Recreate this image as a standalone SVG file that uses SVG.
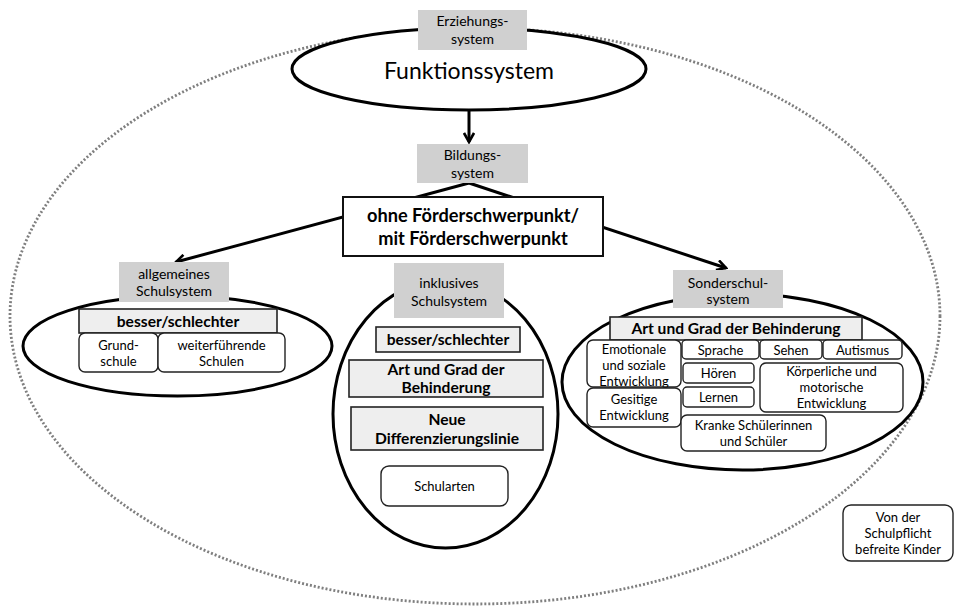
<svg xmlns="http://www.w3.org/2000/svg" width="954" height="608" viewBox="0 0 954 608">
<style>
text{font-family:Lato,"Open Sans","Liberation Sans",sans-serif;fill:#000;text-anchor:middle}
.hd{fill:#d0d0d0;stroke:none}
.hdt{font-size:14px}
.bx{fill:#eeeeee;stroke:#222;stroke-width:1.6}
.bxt{font-size:15.6px;font-weight:bold}
.rb{fill:#fff;stroke:#222;stroke-width:1.4}
.rbt{font-size:13px}
.el{fill:#fff;stroke:#000;stroke-width:3}
.cn{stroke:#000;stroke-width:3;fill:none}
</style>
<defs>
<marker id="ah" viewBox="0 0 12 12" refX="10" refY="6" markerWidth="12" markerHeight="12" markerUnits="userSpaceOnUse" orient="auto">
<path d="M1,1 L10,6 L1,11" fill="none" stroke="#000" stroke-width="2.6"/>
</marker>
</defs>
<ellipse id="outer" cx="475" cy="316" rx="465" ry="288" fill="none" stroke="#7f7f7f" stroke-width="2.8" stroke-dasharray="2 2"/>
<g id="connectors">
<line class="cn" x1="469" y1="110" x2="469" y2="142" marker-end="url(#ah)"/>
<line class="cn" x1="469" y1="183" x2="176" y2="262" marker-end="url(#ah)"/>
<line class="cn" x1="469" y1="183" x2="726" y2="268" marker-end="url(#ah)"/>
</g>
<g id="funktionssystem">
<ellipse class="el" cx="469" cy="69" rx="177" ry="41"/>
<text x="469" y="79" font-size="23">Funktionssystem</text>
</g>
<g id="erziehungssystem">
<rect class="hd" x="418" y="10" width="109" height="40"/>
<text class="hdt" x="472.5" y="26">Erziehungs-</text>
<text class="hdt" x="472.5" y="44">system</text>
</g>
<g id="bildungssystem">
<rect class="hd" x="417" y="144" width="111" height="39"/>
<text class="hdt" x="472.5" y="160">Bildungs-</text>
<text class="hdt" x="472.5" y="178">system</text>
</g>
<g id="foerderschwerpunkt">
<rect x="343" y="197" width="260" height="59" fill="#fff" stroke="#111" stroke-width="2"/>
<text x="473" y="222" font-size="18.2" font-weight="bold">ohne Förderschwerpunkt/</text>
<text x="473" y="245" font-size="18.2" font-weight="bold">mit Förderschwerpunkt</text>
</g>
<g id="allgemeines">
<ellipse class="el" cx="177.5" cy="346" rx="154.5" ry="50"/>
<rect class="hd" x="119" y="262" width="110" height="40"/>
<text class="hdt" x="174" y="279">allgemeines</text>
<text class="hdt" x="174" y="296">Schulsystem</text>
<rect class="bx" x="79" y="309" width="198" height="24"/>
<text class="bxt" x="178" y="327">besser/schlechter</text>
<rect class="rb" x="79" y="333" width="79" height="39" rx="6"/>
<text class="rbt" x="118.5" y="350">Grund-</text>
<text class="rbt" x="118.5" y="366">schule</text>
<rect class="rb" x="158" y="333" width="127" height="39" rx="6"/>
<text class="rbt" x="221.5" y="350">weiterführende</text>
<text class="rbt" x="221.5" y="366">Schulen</text>
</g>
<g id="inklusives">
<ellipse class="el" cx="445.5" cy="414" rx="112.5" ry="134"/>
<rect class="hd" x="394" y="263" width="110" height="55"/>
<text class="hdt" x="449" y="288">inklusives</text>
<text class="hdt" x="449" y="306">Schulsystem</text>
<rect class="bx" x="376" y="327" width="144" height="25"/>
<text class="bxt" x="448" y="345">besser/schlechter</text>
<rect class="bx" x="349" y="360" width="194" height="37"/>
<text class="bxt" x="446" y="375">Art und Grad der</text>
<text class="bxt" x="446" y="393">Behinderung</text>
<rect class="bx" x="351" y="407" width="192" height="43"/>
<text class="bxt" x="447" y="425">Neue</text>
<text class="bxt" x="447" y="444">Differenzierungslinie</text>
<rect class="rb" x="381" y="466" width="127" height="40" rx="8"/>
<text class="rbt" x="444.5" y="491">Schularten</text>
</g>
<g id="sonderschul">
<ellipse class="el" cx="742.5" cy="382" rx="180.5" ry="88"/>
<rect class="hd" x="673" y="270" width="110" height="38"/>
<text class="hdt" x="728" y="288">Sonderschul-</text>
<text class="hdt" x="728" y="304">system</text>
<rect class="bx" x="610" y="317" width="252" height="23"/>
<text class="bxt" x="736" y="334">Art und Grad der Behinderung</text>
<rect class="rb" x="587" y="340" width="94" height="47" rx="6"/>
<text class="rbt" x="634" y="354">Emotionale</text>
<text class="rbt" x="634" y="370">und soziale</text>
<text class="rbt" x="634" y="386">Entwicklung</text>
<rect class="rb" x="682" y="340" width="77" height="19" rx="4"/>
<text class="rbt" x="720.5" y="355">Sprache</text>
<rect class="rb" x="760" y="340" width="62" height="19" rx="4"/>
<text class="rbt" x="791" y="355">Sehen</text>
<rect class="rb" x="823" y="340" width="79" height="19" rx="4"/>
<text class="rbt" x="862.5" y="355">Autismus</text>
<rect class="rb" x="683" y="363" width="71" height="20" rx="4"/>
<text class="rbt" x="718.5" y="378">Hören</text>
<rect class="rb" x="760" y="363" width="143" height="49" rx="6"/>
<text class="rbt" x="831.5" y="376">Körperliche und</text>
<text class="rbt" x="831.5" y="392">motorische</text>
<text class="rbt" x="831.5" y="408">Entwicklung</text>
<rect class="rb" x="587" y="388" width="94" height="39" rx="6"/>
<text class="rbt" x="634" y="404">Gesitige</text>
<text class="rbt" x="634" y="420">Entwicklung</text>
<rect class="rb" x="683" y="387" width="71" height="20" rx="4"/>
<text class="rbt" x="718.5" y="402">Lernen</text>
<rect class="rb" x="681" y="415" width="145" height="36" rx="6"/>
<text class="rbt" x="753.5" y="430">Kranke Schülerinnen</text>
<text class="rbt" x="753.5" y="446">und Schüler</text>
</g>
<g id="befreite">
<rect class="rb" x="843" y="505" width="110" height="56" rx="8"/>
<text class="rbt" x="898" y="522">Von der</text>
<text class="rbt" x="898" y="538">Schulpflicht</text>
<text class="rbt" x="898" y="554">befreite Kinder</text>
</g>
</svg>
